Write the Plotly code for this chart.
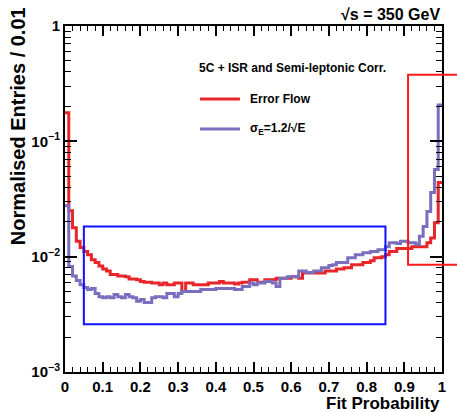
import math
import plotly.graph_objects as go

# ---- data (bin contents, 100 bins of width 0.01) ----
bin_edges = [i / 100 for i in range(101)]

error_flow = [
    0.177, 0.025, 0.0178, 0.0136, 0.0120, 0.0111, 0.0104, 0.0094, 0.0089, 0.0083,
    0.0078, 0.0075, 0.0070, 0.0070, 0.0068, 0.0068, 0.0067, 0.0064, 0.0064, 0.0063,
    0.0061, 0.0060, 0.0060, 0.0059, 0.0059, 0.0057, 0.0059, 0.0057, 0.0057, 0.0059,
    0.0059, 0.0050, 0.0059, 0.0059, 0.0057, 0.0057, 0.0057, 0.0057, 0.0059, 0.0059,
    0.0059, 0.0061, 0.0059, 0.0059, 0.0059, 0.0058, 0.0059, 0.0060, 0.0060, 0.0063,
    0.0063, 0.0060, 0.0060, 0.0063, 0.0063, 0.0063, 0.0065, 0.0065, 0.0065, 0.0065,
    0.0067, 0.0067, 0.0065, 0.0072, 0.0072, 0.0072, 0.0072, 0.0072, 0.0072, 0.0075,
    0.0075, 0.0075, 0.0078, 0.0078, 0.0080, 0.0080, 0.0085, 0.0085, 0.0085, 0.0089,
    0.0089, 0.0092, 0.0098, 0.0098, 0.0100, 0.0104, 0.0111, 0.0111, 0.0118, 0.0118,
    0.0118, 0.0118, 0.0122, 0.0122, 0.0122, 0.0122, 0.0132, 0.0145, 0.0197, 0.044,
]

sigma_e = [
    0.0277, 0.0082, 0.0068, 0.0062, 0.0057, 0.0054, 0.0052, 0.0053, 0.0048, 0.0045,
    0.0044, 0.0045, 0.0044, 0.0047, 0.0045, 0.0044, 0.0047, 0.0045, 0.0044, 0.0041,
    0.00425, 0.0040, 0.0040, 0.0044, 0.0045, 0.0045, 0.0044, 0.0048, 0.0048, 0.0045,
    0.0048, 0.0050, 0.0050, 0.0050, 0.0050, 0.0050, 0.0052, 0.0052, 0.0052, 0.0052,
    0.0053, 0.0053, 0.0053, 0.0053, 0.0053, 0.0052, 0.0052, 0.0055, 0.0055, 0.0059,
    0.0057, 0.0059, 0.0059, 0.0061, 0.0061, 0.0059, 0.0055, 0.0065, 0.0065, 0.0067,
    0.0067, 0.0067, 0.0075, 0.0075, 0.0073, 0.0073, 0.0075, 0.0075, 0.0080, 0.0080,
    0.0084, 0.0085, 0.0089, 0.0089, 0.0089, 0.0098, 0.0098, 0.0104, 0.0104, 0.0108,
    0.0108, 0.0111, 0.0111, 0.0115, 0.0115, 0.0122, 0.0132, 0.0132, 0.0130, 0.0136,
    0.0136, 0.0132, 0.0132, 0.0128, 0.0150, 0.0183, 0.0246, 0.036, 0.057, 0.207,
]

x_tick_vals = [0, 0.1, 0.2, 0.3, 0.4, 0.5, 0.6, 0.7, 0.8, 0.9, 1]
x_tick_text = ["0", "0.1", "0.2", "0.3", "0.4", "0.5", "0.6", "0.7", "0.8", "0.9", "1"]
y_tick_vals = [1e-3, 1e-2, 1e-1, 1]
y_tick_text = ["10<sup>−3</sup>", "10<sup>−2</sup>", "10<sup>−1</sup>", "1"]

# highlight boxes (data units)
blue_box = dict(x0=0.05, x1=0.85, y0=0.0026, y1=0.0183)
red_box = dict(x0=0.91, x1=1.2, y0=0.0085, y1=0.377)

# ---- style ----
RED = "#e8262a"
PURPLE = "#7a6fbe"
FONT = "Liberation Sans"
Y_LOG_RANGE = [-3, 0]


def step_xy(edges, vals):
    xs = list(edges[:-1]) + [edges[-1]]
    ys = list(vals) + [vals[-1]]
    return xs, ys


fig = go.Figure()
for vals, color, name in [(error_flow, RED, "Error Flow"),
                          (sigma_e, PURPLE, "σ<sub>E</sub>=1.2/√E")]:
    xs, ys = step_xy(bin_edges, vals)
    fig.add_trace(go.Scatter(x=xs, y=ys, mode="lines", line=dict(color=color, width=3, shape="hv"),
                             name=name, showlegend=False, hoverinfo="skip"))

minor_y = [m * 10 ** e for e in range(-3, 0) for m in range(2, 10)]

fig.update_layout(
    width=457, height=412,
    margin=dict(l=65, r=15, t=26, b=40),
    paper_bgcolor="white", plot_bgcolor="white",
    font=dict(family=FONT, color="black"),
    xaxis=dict(range=[0, 1], showgrid=False, zeroline=False,
               showline=True, linecolor="black", linewidth=2, mirror="ticks",
               ticks="inside", ticklen=10, tickwidth=1.5, tickcolor="black",
               tickvals=x_tick_vals, ticktext=x_tick_text,
               tickfont=dict(family=FONT, size=15, weight="bold"),
               minor=dict(ticks="inside", dtick=0.02, ticklen=5, tickwidth=1.2, tickcolor="black", showgrid=False)),
    yaxis=dict(type="log", range=Y_LOG_RANGE, showgrid=False, zeroline=False,
               showline=True, linecolor="black", linewidth=2, mirror="ticks",
               ticks="inside", ticklen=12, tickwidth=1.5, tickcolor="black",
               tickvals=y_tick_vals, ticktext=y_tick_text,
               tickfont=dict(family=FONT, size=15, weight="bold"),
               minor=dict(ticks="inside", tickmode="array", tickvals=minor_y, ticklen=6,
                          tickwidth=1.2, tickcolor="black", showgrid=False)),
)

fig.add_shape(type="rect", xref="x", yref="y", **blue_box,
              line=dict(color="#1010ff", width=2), fillcolor="rgba(0,0,0,0)")


def to_paper_y(v):
    return (math.log10(v) - Y_LOG_RANGE[0]) / (Y_LOG_RANGE[1] - Y_LOG_RANGE[0])


fig.add_shape(type="rect", xref="paper", yref="paper",
              x0=red_box["x0"], x1=red_box["x1"],
              y0=to_paper_y(red_box["y0"]), y1=to_paper_y(red_box["y1"]),
              line=dict(color="#ff1a1a", width=2), fillcolor="rgba(0,0,0,0)")

# legend (drawn manually, ROOT style)
fig.add_annotation(xref="paper", yref="paper", x=0.350, y=0.8786, xanchor="left", yanchor="middle",
                   text="5C + ISR and Semi-leptonic Corr.", showarrow=False,
                   font=dict(family=FONT, size=12, weight="bold"))
for yy, color, label in [(0.789, RED, "Error Flow"), (0.702, PURPLE, "σ<sub>E</sub>=1.2/√E")]:
    fig.add_shape(type="line", xref="paper", yref="paper", x0=0.358, x1=0.464, y0=yy, y1=yy,
                  line=dict(color=color, width=3))
    fig.add_annotation(xref="paper", yref="paper", x=0.486, y=yy, xanchor="left", yanchor="middle",
                       text=label, showarrow=False, font=dict(family=FONT, size=12, weight="bold"))

# titles
fig.add_annotation(xref="paper", yref="paper", x=1.0, y=1.032, xanchor="right", yanchor="middle",
                   text="√s = 350 GeV", showarrow=False, font=dict(family=FONT, size=16, weight="bold"))
fig.add_annotation(xref="paper", yref="paper", x=1.0, y=-0.092, xanchor="right", yanchor="middle",
                   text="Fit Probability", showarrow=False, font=dict(family=FONT, size=17, weight="bold"))
fig.add_annotation(xref="paper", yref="paper", x=-0.125, y=0.71, xanchor="center", yanchor="middle",
                   textangle=-90, text="Normalised Entries / 0.01", showarrow=False,
                   font=dict(family=FONT, size=20, weight="bold"))

fig.write_html("out.html", config={"displayModeBar": False},
               post_script="document.body.style.margin='0';")
